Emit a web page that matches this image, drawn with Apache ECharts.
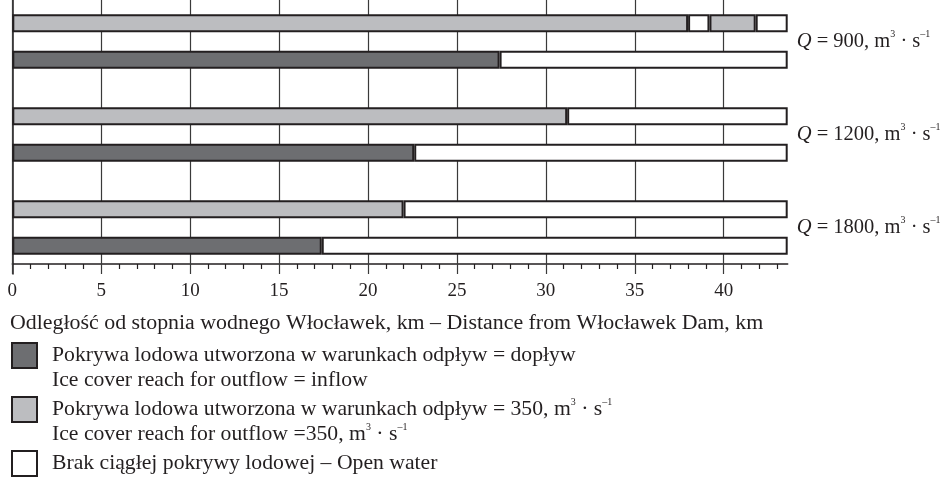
<!DOCTYPE html>
<html>
<head>
<meta charset="utf-8">
<script src="https://cdn.jsdelivr.net/npm/echarts@6/dist/echarts.min.js"></script>
<style>
  html, body { margin: 0; padding: 0; background: #fff; }
  #chart { width: 951px; height: 481px; }
</style>
</head>
<body>
<div id="chart"></div>
<script>
// flows Q, m3/s (one row pair per flow)
const flows = ["900", "1200", "1800"];
// km from Włocławek Dam
const riverEnd = 43.6;
const iceInflow = [27.4, 22.6, 17.4];     // outflow = inflow
const ice350 = [38.0, 31.2, 22.0];        // outflow = 350
const ice350Patch = [[39.2, 41.8], null, null]; // second ice piece downstream of a gap
const tickLabels = [0, 5, 10, 15, 20, 25, 30, 35, 40];
const minorTicks = [1, 2, 3, 4, 6, 7, 8, 9, 11, 12, 13, 14, 16, 17, 18, 19, 21, 22, 23, 24,
  26, 27, 28, 29, 31, 32, 33, 34, 36, 37, 38, 39, 41, 42, 43];

const FONT = "'Liberation Serif', 'Times New Roman', serif";
const INK = "#231f20";
const DARK = "#6d6e71";
const GRAY = "#bcbdc0";

const chart = echarts.init(document.getElementById("chart"), null, { renderer: "canvas" });

function seg(name, color, stack, data) {
  return {
    name: name,
    type: "bar",
    stack: stack,
    data: data,
    barWidth: 18,
    barGap: "104%",
    itemStyle: { color: color, borderColor: INK, borderWidth: 2 },
    silent: true,
  };
}

const grayStack = [
  seg("ice350", GRAY, "s350", ice350),
  seg("open", "#ffffff", "s350", ice350.map((v, i) => (ice350Patch[i] ? ice350Patch[i][0] : riverEnd) - v)),
  seg("ice350", GRAY, "s350", ice350Patch.map((p) => (p ? p[1] - p[0] : "-"))),
  seg("open", "#ffffff", "s350", ice350Patch.map((p) => (p ? riverEnd - p[1] : "-"))),
];
const darkStack = [
  seg("inflow", DARK, "sIn", iceInflow),
  seg("open", "#ffffff", "sIn", iceInflow.map((v) => riverEnd - v)),
];

function richSet(size) {
  const base = { fontSize: size, fontFamily: FONT, color: INK, lineHeight: 24 };
  return {
    b: base,
    q: Object.assign({}, base, { fontStyle: "italic" }),
    s: { fontSize: 10, fontFamily: FONT, color: INK, verticalAlign: "top", lineHeight: 24 },
  };
}
const legendRich = richSet(21.7);
const sideRich = richSet(20.5);

function legendItem(y, color, line1, line2) {
  const els = [
    {
      type: "rect",
      shape: { x: 12, y: y, width: 25, height: 25 },
      style: { fill: color, stroke: INK, lineWidth: 2 },
    },
    {
      type: "text",
      x: 52,
      y: y,
      style: { text: line1, rich: legendRich, fill: INK },
    },
  ];
  if (line2) {
    els.push({
      type: "text",
      x: 52,
      y: y + 25,
      style: { text: line2, rich: legendRich, fill: INK },
    });
  }
  return els;
}

const option = {
  animation: false,
  title: {
    text: "Odległość od stopnia wodnego Włocławek, km – Distance from Włocławek Dam, km",
    left: 5,
    top: 307,
    textStyle: { fontFamily: FONT, fontSize: 21.9, fontWeight: "normal", color: INK },
  },
  grid: { left: 12.3, right: 163.3, top: -5, bottom: 207, outerBoundsMode: "none" },
  xAxis: [
    {
      // main axis: line + labels
      type: "value",
      min: 0,
      max: riverEnd,
      interval: 5,
      position: "bottom",
      offset: -10,
      axisLine: { show: true, lineStyle: { color: INK, width: 1.5 } },
      axisTick: { show: false },
      axisLabel: {
        color: INK,
        fontFamily: FONT,
        fontSize: 19,
        margin: 18,
        customValues: tickLabels,
      },
      splitLine: { show: false },
    },
    {
      // minor ticks, every km
      type: "value",
      min: 0,
      max: riverEnd,
      interval: 1,
      position: "bottom",
      offset: -10,
      axisLine: { show: false },
      axisTick: { show: true, length: 5, customValues: minorTicks, lineStyle: { color: INK, width: 1.2 } },
      axisLabel: { show: false },
      splitLine: { show: false },
    },
    {
      // grid lines every 5 km, running a little below the axis line
      type: "value",
      min: 0,
      max: riverEnd,
      interval: 5,
      position: "bottom",
      offset: 0,
      axisLine: { show: false },
      axisTick: { show: true, inside: true, length: 279, customValues: tickLabels, lineStyle: { color: "#3a3a3a", width: 1.2 } },
      axisLabel: { show: false },
      splitLine: { show: false },
    },
  ],
  yAxis: [
    {
      type: "category",
      data: flows,
      inverse: true,
      axisLine: { show: true, lineStyle: { color: INK, width: 1.5 } },
      axisTick: { show: false },
      axisLabel: { show: false },
      splitLine: { show: false },
    },
    {
      type: "category",
      data: flows,
      inverse: true,
      position: "right",
      axisLine: { show: false },
      axisTick: { show: false },
      splitLine: { show: false },
      axisLabel: {
        margin: 9,
        formatter: (v) => "{q|Q}{b| = " + v + ", m}{s|3}{b| · s}{s|–1}",
        rich: sideRich,
      },
    },
  ],
  series: grayStack.concat(darkStack),
  graphic: [].concat(
    legendItem(343, DARK,
      "{b|Pokrywa lodowa utworzona w warunkach odpływ = dopływ}",
      "{b|Ice cover reach for outflow = inflow}"),
    legendItem(397, GRAY,
      "{b|Pokrywa lodowa utworzona w warunkach odpływ = 350, m}{s|3}{b| · s}{s|–1}",
      "{b|Ice cover reach for outflow =350, m}{s|3}{b| · s}{s|–1}"),
    legendItem(451, "#ffffff",
      "{b|Brak ciągłej pokrywy lodowej – Open water}", null)
  ),
};

chart.setOption(option);
window.addEventListener("resize", () => chart.resize());
</script>
</body>
</html>
